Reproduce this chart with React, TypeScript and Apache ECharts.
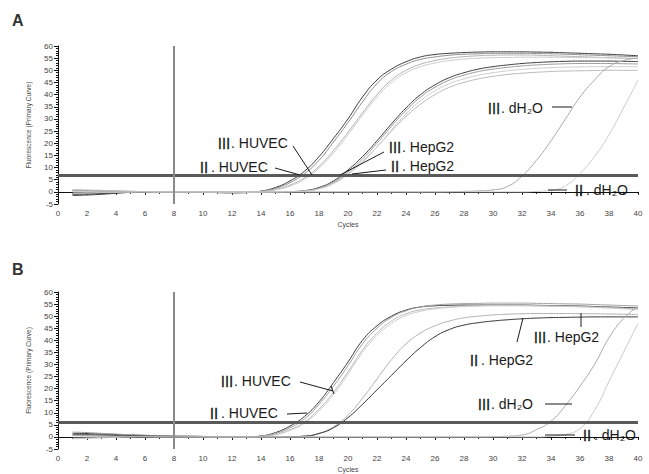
import React, { useEffect, useRef } from "react";
import * as echarts from "echarts";

// ---------- data ----------
const cycles = [1,2,3,4,5,6,7,8,9,10,11,12,13,14,15,16,17,18,19,20,21,22,23,24,25,26,27,28,29,30,31,32,33,34,35,36,37,38,39,40];

const thresholdA = 6.7;
const thresholdB = 6.2;
const baselineStart = 8;

// Panel A
const aHuvec3a = [-1.5,-1.3,-1.0,-0.6,-0.2,0.1,0.1,0,0,-0.1,-0.3,-0.4,-0.3,0.3,1.8,4.5,8.5,14.5,22,30,39,46,50.5,53.5,55.5,56.5,57,57.3,57.5,57.6,57.6,57.6,57.5,57.4,57.2,57,56.8,56.6,56.3,56];
const aHuvec3b = [-0.8,-0.7,-0.5,-0.3,-0.1,0.1,0.1,0,0,-0.1,-0.3,-0.4,-0.3,0.2,1.4,3.8,7.5,13,20.5,28.5,37,44.5,49.5,52.5,54.5,55.5,56.2,56.6,56.8,57,57,57,56.9,56.8,56.6,56.4,56.2,56,55.8,55.6];
const aHuvec2a = [0.8,0.6,0.4,0.3,0.2,0.1,0,0,0,-0.1,-0.2,-0.3,-0.2,0.1,1,2.8,5.8,10.5,17,24.5,32.5,40,46,50,52.5,54,55,55.6,56,56.2,56.3,56.3,56.2,56,55.8,55.6,55.4,55.2,55,54.8];
const aHuvec2b = [0.5,0.4,0.3,0.2,0.1,0.1,0,0,0,-0.1,-0.2,-0.3,-0.2,0.1,0.8,2.4,5.2,9.8,16,23.5,31.5,39,45,49,51.5,53,54,54.6,55,55.2,55.3,55.4,55.4,55.4,55.3,55.2,55.2,55.1,55,55];
const aHepg23a = [-1.0,-0.9,-0.7,-0.4,-0.1,0,0,0,0,0,-0.1,-0.2,-0.2,-0.1,0,0.1,0.5,1.8,4.5,9,14.5,21,28,34.5,40,44,47,49,50.5,51.5,52.2,52.8,53.2,53.5,53.7,53.8,53.8,53.8,53.7,53.6];
const aHepg23b = [-0.4,-0.3,-0.2,-0.1,0,0,0,0,0,0,-0.1,-0.2,-0.2,-0.1,0,0.1,0.4,1.5,4,8.2,13.5,20,27,33.5,39,43,46,48,49.5,50.5,51.2,51.8,52.2,52.5,52.7,52.8,52.8,52.8,52.7,52.6];
const aHepg22a = [0.3,0.3,0.2,0.1,0,0,0,0,0,0,-0.1,-0.2,-0.2,-0.1,0,0.1,0.3,1.3,3.6,7.5,12.5,18.5,25,31,36,40,43,45,46.5,47.5,48.3,48.8,49.2,49.5,49.7,49.8,49.9,50,50,50];
const aHepg22b = [1.0,0.8,0.6,0.4,0.2,0.1,0,0,0,0,-0.1,-0.2,-0.2,-0.1,0,0.1,0.3,1.2,3.4,7.2,12.2,18.5,25.5,32,37.5,41.5,44.5,46.5,48,49,49.8,50.4,50.8,51.1,51.3,51.4,51.5,51.5,51.5,51.5];
const aDh2o3 = [0.6,0.5,0.4,0.3,0.2,0.1,0,0,0,0,0,0,0,0,0,0,0,0,0,0,0,0,0,0,0,0,0.1,0.2,0.4,0.8,2.2,6.5,13,21,30,39,46,51.5,54,55];
const aDh2o2 = [-0.6,-0.5,-0.3,-0.2,-0.1,0,0,0,0,0,0,0,0,0,0,0,0,0,0,0,0,0,0,0,0,0,0,0,0,0,0,0,0.2,0.6,2.5,7.5,14.5,23.5,34.5,46];

// Panel B
const bHuvec3a = [1.5,1.4,1.2,1.0,0.8,0.6,0.5,0.4,0.3,0.2,0.1,0,0,0.4,1.8,4.5,8.5,14.5,22.5,31,40,46,50,52.5,53.8,54.3,54.5,54.6,54.6,54.6,54.6,54.6,54.5,54.4,54.3,54.2,54,53.8,53.6,53.4];
const bHuvec3b = [2,1.8,1.5,1.2,0.9,0.7,0.5,0.4,0.3,0.2,0.1,0,0,0.3,1.4,3.8,7.5,13.5,21,29.5,38.5,45,49.5,52.2,53.8,54.6,55,55.2,55.3,55.4,55.4,55.4,55.3,55.2,55.1,55,54.8,54.6,54.4,54.2];
const bHuvec2a = [-0.5,-0.4,-0.2,0,0.2,0.3,0.3,0.3,0.2,0.1,0,0,0,0.2,1,3,6.2,11.5,18.5,27,36,43,48,51,52.6,53.4,53.8,54.1,54.3,54.4,54.4,54.4,54.3,54.2,54.1,54,53.8,53.6,53.3,53];
const bHuvec2b = [0.6,0.5,0.4,0.3,0.3,0.3,0.3,0.3,0.2,0.1,0,0,0,0.2,0.9,2.7,5.7,10.8,17.5,26,35,42,47,50.2,52,53,53.6,54,54.2,54.3,54.3,54.3,54.2,54.1,54,53.8,53.6,53.3,53,52.6];
const bHepg23 = [0.5,0.4,0.3,0.3,0.2,0.2,0.1,0.1,0,0,0,0,0,0,0,0.1,0.4,1.5,4.2,9,16,24,32,38.5,43,46,48,49.3,50,50.5,50.8,51,51.1,51.1,51.1,51,51,50.9,50.8,50.7];
const bHepg22 = [1.0,0.9,0.8,0.6,0.5,0.4,0.3,0.2,0.1,0,0,0,0,0,0,0.1,0.3,1.4,3.8,8,13.5,19.5,25.5,31.5,37,41.5,44.5,46.3,47.3,48,48.5,48.9,49.2,49.4,49.5,49.6,49.7,49.7,49.7,49.7];
const bDh2o3 = [0.8,0.6,0.4,0.3,0.2,0.1,0,0,0,0,0,0,0,0,0,0,0,0,0,0,0,0,0,0,0,0,0,0,0,0.1,0.3,0.8,3,6.5,13,21,30,41,49,54];
const bDh2o2 = [-0.8,-0.6,-0.4,-0.2,-0.1,0,0,0,0,0,0,0,0,0,0,0,0,0,0,0,0,0,0,0,0,0,0,0,0,0,0,0,0,0.3,1,3.5,11,23,35,47];

const yTicks = { min: -5, max: 60, step: 5 };
const xTicks = { min: 0, max: 40, step: 2 };

// ---------- chart ----------
const FONT = "'Liberation Sans', Arial, sans-serif";
const CJK = "'Noto Sans CJK SC', 'Noto Sans CJK JP', sans-serif";

function line(name: string, vals: number[], color: string, idx: number, width = 1) {
  return {
    name,
    type: "line",
    xAxisIndex: idx,
    yAxisIndex: idx,
    data: cycles.map((c, i) => [c, vals[i]]),
    showSymbol: false,
    smooth: true,
    lineStyle: { color, width },
    z: 3,
  };
}

function guides(idx: number, threshold: number) {
  return {
    name: "guides" + idx,
    type: "line",
    xAxisIndex: idx,
    yAxisIndex: idx,
    data: [],
    markLine: {
      silent: true,
      symbol: "none",
      label: { show: false },
      animation: false,
      data: [
        { yAxis: threshold, lineStyle: { color: "#5a5a5a", width: 3, type: "solid" } },
        { xAxis: baselineStart, lineStyle: { color: "#8a8a8a", width: 2, type: "solid" } },
      ],
    },
    z: 2,
  };
}

function xAxis(idx: number) {
  return {
    type: "value",
    gridIndex: idx,
    min: xTicks.min,
    max: xTicks.max,
    interval: xTicks.step,
    name: "Cycles",
    nameLocation: "middle",
    nameGap: 17,
    nameTextStyle: { fontSize: 7, color: "#444", fontFamily: FONT },
    axisLine: { lineStyle: { color: "#111", width: 1 } },
    axisTick: { length: 3, lineStyle: { color: "#111" } },
    minorTick: { show: true, splitNumber: 2, length: 2, lineStyle: { color: "#111" } },
    axisLabel: { fontSize: 8, color: "#444", margin: 5, fontFamily: FONT },
    splitLine: { show: false },
  };
}

function yAxis(idx: number) {
  return {
    type: "value",
    gridIndex: idx,
    min: yTicks.min,
    max: yTicks.max,
    interval: yTicks.step,
    name: "Fluorescence (Primary Curve)",
    nameLocation: "middle",
    nameGap: 26,
    nameTextStyle: { fontSize: 6.5, color: "#444", fontFamily: FONT },
    axisLine: { show: true, lineStyle: { color: "#111", width: 1 } },
    axisTick: { show: true, length: 4, lineStyle: { color: "#111" } },
    minorTick: { show: true, splitNumber: 5, length: 2, lineStyle: { color: "#111" } },
    axisLabel: { fontSize: 8, color: "#444", margin: 5, fontFamily: FONT },
    splitLine: { show: false },
  };
}

function label(numeral: string, rest: string, x: number, y: number) {
  return {
    type: "group",
    x,
    y,
    z: 10,
    children: [
      {
        type: "text",
        x: 0,
        y: 0,
        style: {
          text: numeral,
          fontSize: 14,
          fontFamily: CJK,
          fill: "#1a1a1a",
          stroke: "#1a1a1a",
          lineWidth: 0.3,
          verticalAlign: "middle",
        },
      },
      {
        type: "text",
        x: 14,
        y: 0,
        style: {
          text: rest,
          fontSize: 14,
          fontFamily: FONT,
          fill: "#1a1a1a",
          verticalAlign: "middle",
        },
      },
    ],
  };
}

function leader(x1: number, y1: number, x2: number, y2: number) {
  return {
    type: "line",
    shape: { x1, y1, x2, y2 },
    style: { stroke: "#1a1a1a", lineWidth: 1 },
    z: 10,
  };
}

export default function App() {
  const ref = useRef<HTMLDivElement>(null);
  useEffect(() => {
    document.body.style.margin = "0";
    const chart = echarts.init(ref.current!, null, { renderer: "svg" });
    chart.setOption({
      animation: false,
      backgroundColor: "#ffffff",
      grid: [
        { left: 58, right: 11, top: 46, height: 158 },
        { left: 58, right: 11, top: 292, height: 158 },
      ],
      xAxis: [xAxis(0), xAxis(1)],
      yAxis: [yAxis(0), yAxis(1)],
      series: [
        guides(0, thresholdA),
        line("A III HUVEC a", aHuvec3a, "#3a3a3a", 0),
        line("A III HUVEC b", aHuvec3b, "#8c8c8c", 0),
        line("A II HUVEC a", aHuvec2a, "#b0b0b0", 0),
        line("A II HUVEC b", aHuvec2b, "#cacaca", 0),
        line("A III HepG2 a", aHepg23a, "#3a3a3a", 0),
        line("A III HepG2 b", aHepg23b, "#9a9a9a", 0),
        line("A II HepG2 a", aHepg22a, "#b8b8b8", 0),
        line("A II HepG2 b", aHepg22b, "#cccccc", 0),
        line("A III dH2O", aDh2o3, "#a8a8a8", 0),
        line("A II dH2O", aDh2o2, "#cccccc", 0),
        guides(1, thresholdB),
        line("B III HUVEC a", bHuvec3a, "#3a3a3a", 1),
        line("B III HUVEC b", bHuvec3b, "#a0a0a0", 1),
        line("B II HUVEC a", bHuvec2a, "#b8b8b8", 1),
        line("B II HUVEC b", bHuvec2b, "#cccccc", 1),
        line("B III HepG2", bHepg23, "#b0b0b0", 1),
        line("B II HepG2", bHepg22, "#333333", 1),
        line("B III dH2O", bDh2o3, "#aaaaaa", 1),
        line("B II dH2O", bDh2o2, "#c8c8c8", 1),
      ],
      graphic: [
        { type: "text", x: 12, y: 12, style: { text: "A", fontSize: 16, fontWeight: "bold", fontFamily: FONT, fill: "#333" } },
        { type: "text", x: 12, y: 261, style: { text: "B", fontSize: 16, fontWeight: "bold", fontFamily: FONT, fill: "#333" } },
        // Panel A labels
        label("Ⅲ", ". HUVEC", 217, 143),
        leader(293, 146, 312, 175),
        label("Ⅱ", ". HUVEC", 197, 167),
        leader(275, 168, 300, 175),
        label("Ⅲ", ". HepG2", 388, 147),
        leader(384, 152, 340, 175),
        label("Ⅱ", ". HepG2", 388, 166),
        leader(386, 170, 352, 174),
        label("Ⅲ", ". dH₂O", 487, 108),
        leader(552, 107, 572, 107),
        label("Ⅱ", ". dH₂O", 572, 190),
        leader(548, 190, 567, 190),
        // Panel B labels
        label("Ⅲ", ". HUVEC", 220, 381),
        leader(300, 382, 333, 391),
        leader(331, 386, 334, 394),
        label("Ⅱ", ". HUVEC", 207, 413),
        leader(287, 414, 307, 413),
        label("Ⅲ", ". HepG2", 533, 337),
        leader(581, 313, 581, 327),
        label("Ⅱ", ". HepG2", 467, 360),
        leader(517, 342, 523, 318),
        label("Ⅲ", ". dH₂O", 477, 404),
        leader(545, 404, 572, 404),
        label("Ⅱ", ". dH₂O", 580, 435),
        leader(545, 435, 575, 435),
      ],
    });
    return () => chart.dispose();
  }, []);
  return <div ref={ref} style={{ position: "fixed", left: 0, top: 0, width: 649, height: 474 }} />;
}
